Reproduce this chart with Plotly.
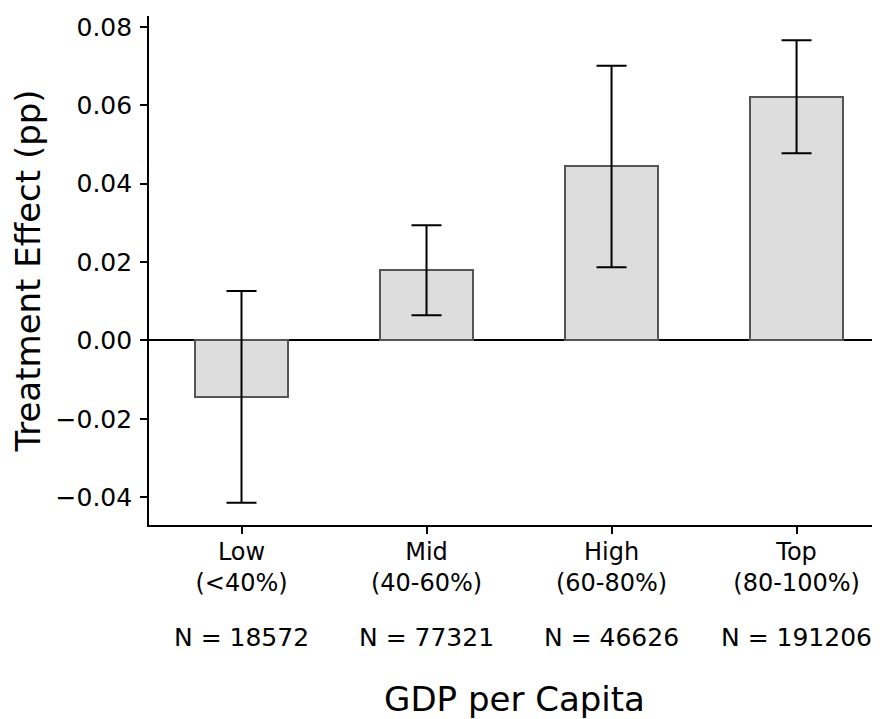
import plotly.graph_objects as go

categories = ["Low<br>(&lt;40%)", "Mid<br>(40-60%)", "High<br>(60-80%)", "Top<br>(80-100%)"]
sample_sizes = ["N = 18572", "N = 77321", "N = 46626", "N = 191206"]
effects = [-0.0144, 0.0179, 0.0444, 0.0622]
errors = [0.0270, 0.0115, 0.0257, 0.0144]
y_ticks = [-0.04, -0.02, 0.0, 0.02, 0.04, 0.06, 0.08]

positions = list(range(len(categories)))
FONT = "DejaVu Sans"

fig = go.Figure()
fig.add_trace(go.Bar(
    x=positions, y=effects, width=0.5,
    marker=dict(color="#dddddd", line=dict(color="#555555", width=2)),
    error_y=dict(type="data", array=errors, visible=True,
                 color="black", thickness=2, width=15),
    showlegend=False,
))

for p, n in zip(positions, sample_sizes):
    fig.add_annotation(x=p, xref="x", y=-0.222, yref="paper", text=n,
                       showarrow=False, yanchor="middle",
                       font=dict(family=FONT, size=25, color="black"))

fig.update_layout(
    width=872, height=711,
    margin=dict(l=141, r=0, t=8, b=194),
    paper_bgcolor="white", plot_bgcolor="white",
    font=dict(family=FONT, size=25, color="black"),
    bargap=0,
)
fig.update_xaxes(
    range=[-0.5, 3.451], tickmode="array", tickvals=positions, ticktext=categories,
    tickfont=dict(family=FONT, size=24),
    showline=True, linecolor="black", linewidth=1.6,
    ticks="outside", ticklen=7, tickwidth=1.6, tickcolor="black",
    ticklabelstandoff=-3,
    showgrid=False, zeroline=False,
    title=dict(text="GDP per Capita", font=dict(family=FONT, size=34), standoff=99),
)
fig.update_yaxes(
    range=[-0.0471, 0.0828], tickmode="array", tickvals=y_ticks, tickformat=".2f",
    showline=True, linecolor="black", linewidth=1.6,
    ticks="outside", ticklen=7, tickwidth=1.6, tickcolor="black",
    showgrid=False, zeroline=True, zerolinecolor="black", zerolinewidth=2,
    ticklabelstandoff=3,
    title=dict(text="Treatment Effect (pp)", font=dict(family=FONT, size=34), standoff=8),
)

fig.write_html("out.html")
